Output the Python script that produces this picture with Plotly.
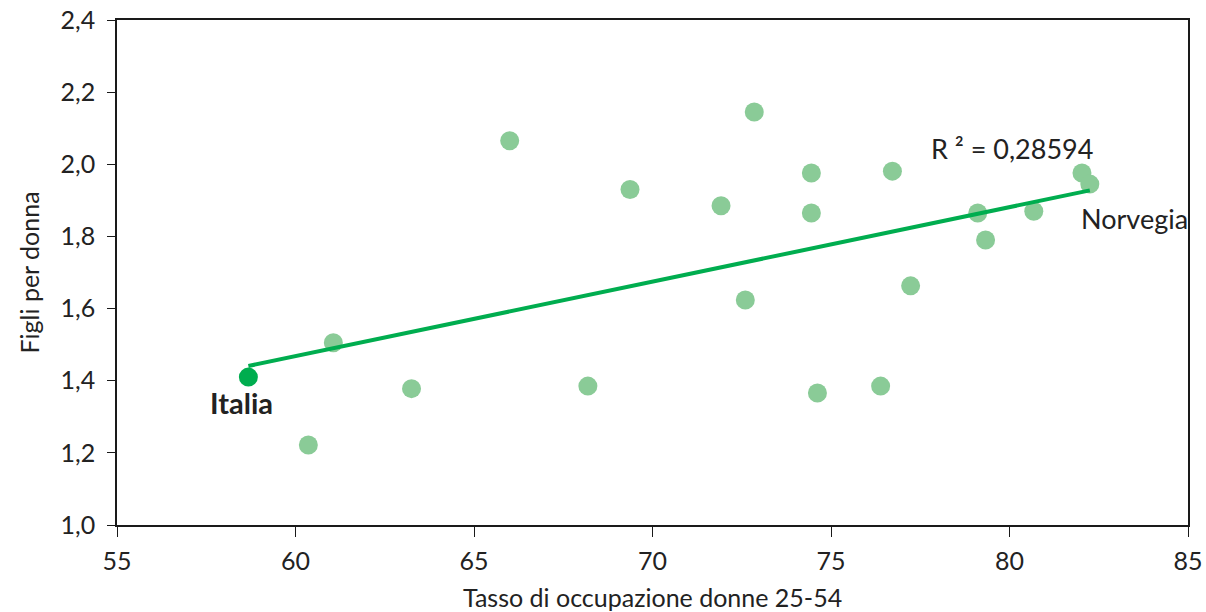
import numpy as np
import plotly.graph_objects as go

C_POINT = '#8acb97'
C_ITALIA = '#00ad4f'
C_LINE = '#00ad4f'
C_TEXT = '#222222'
C_AXIS = '#1a1a1a'
FONT = 'Lato, sans-serif'

# tasso di occupazione donne 25-54 / figli per donna
occupazione = [60.36, 61.06, 63.25, 66.0, 68.19, 69.37, 71.92, 72.6, 72.85,
               74.45, 74.45, 74.62, 76.39, 76.72, 77.23, 79.11, 79.33, 80.68,
               82.03]
figli = [1.222, 1.505, 1.378, 2.065, 1.385, 1.93, 1.885, 1.624, 2.145,
         1.976, 1.865, 1.366, 1.385, 1.981, 1.663, 1.865, 1.79, 1.87, 1.976]

italia_x, italia_y = 58.68, 1.41
norvegia_x, norvegia_y = 82.25, 1.945

all_x = np.array(occupazione + [italia_x, norvegia_x])
all_y = np.array(figli + [italia_y, norvegia_y])
slope, intercept = np.polyfit(all_x, all_y, 1)
trend_x = [italia_x, norvegia_x]
trend_y = [intercept + slope * v for v in trend_x]

fig = go.Figure()
fig.add_trace(go.Scatter(
    x=occupazione + [norvegia_x], y=figli + [norvegia_y], mode='markers',
    marker=dict(color=C_POINT, size=19, line=dict(width=0)),
    showlegend=False,
))
fig.add_trace(go.Scatter(
    x=[italia_x], y=[italia_y], mode='markers',
    marker=dict(color=C_ITALIA, size=19, line=dict(width=0)),
    showlegend=False,
))
fig.add_trace(go.Scatter(
    x=trend_x, y=trend_y, mode='lines',
    line=dict(color=C_LINE, width=4),
    showlegend=False,
))

fig.add_annotation(x=italia_x, y=italia_y, text='<b>Italia</b>', showarrow=False,
                   xanchor='center', yanchor='middle', xshift=-7, yshift=-25,
                   font=dict(size=29, color=C_TEXT))
fig.add_annotation(x=norvegia_x, y=norvegia_y, text='Norvegia', showarrow=False,
                   xanchor='center', yanchor='middle', xshift=45, yshift=-34,
                   font=dict(size=27, color=C_TEXT))
fig.add_annotation(x=80.06, y=2.045, text='R ² = 0,28594', showarrow=False,
                   xanchor='center', yanchor='middle',
                   font=dict(size=27, color=C_TEXT))

# axis titles placed by hand (margins are fixed)
fig.add_annotation(xref='paper', yref='paper', x=0.5, y=0, yshift=-72,
                   text='Tasso di occupazione donne 25-54', showarrow=False,
                   xanchor='center', yanchor='middle', font=dict(size=25))
fig.add_annotation(xref='paper', yref='paper', x=0, y=0.5, xshift=-89,
                   text='Figli per donna', showarrow=False, textangle=-90,
                   xanchor='center', yanchor='middle', font=dict(size=25))

fig.update_layout(
    width=1206, height=612,
    paper_bgcolor='white', plot_bgcolor='white',
    font=dict(family=FONT, color=C_TEXT, size=25),
    margin=dict(l=117, r=18, t=20, b=87, autoexpand=False),
    separators=',.',
    xaxis=dict(range=[55, 85], dtick=5, tickformat='d', automargin=False,
               showline=True, linecolor=C_AXIS, linewidth=1.5, mirror=True,
               ticks='outside', ticklen=10, tickcolor=C_AXIS, tickwidth=1.2,
               ticklabelstandoff=3, ticklabeloverflow='allow',
               showgrid=False, zeroline=False),
    yaxis=dict(range=[1.0, 2.4], dtick=0.2, tickformat='.1f', automargin=False,
               showline=True, linecolor=C_AXIS, linewidth=1.5, mirror=True,
               ticks='outside', ticklen=8, tickcolor=C_AXIS, tickwidth=1.2,
               ticklabelstandoff=7, ticklabeloverflow='allow',
               showgrid=False, zeroline=False),
)

# drop the default page margin so the figure fills the window exactly
fig.write_html('out.html', config={'displayModeBar': False},
               post_script="document.body.style.margin='0';document.body.style.overflow='hidden';")
